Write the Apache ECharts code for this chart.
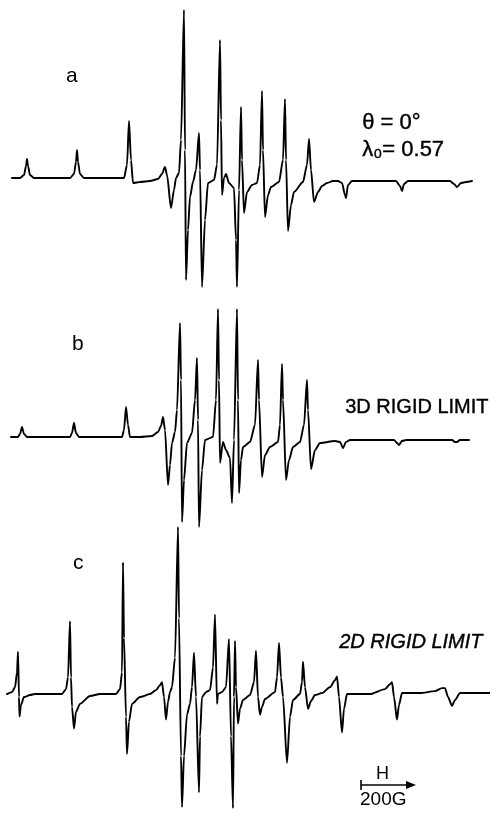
<!DOCTYPE html>
<html><head><meta charset="utf-8">
<script src="https://cdn.jsdelivr.net/npm/echarts@6/dist/echarts.min.js"></script>
<style>html,body{margin:0;padding:0;background:#fff}#c{width:490px;height:815px}</style>
</head><body><div id="c"></div>
<script>
// Field positions (arbitrary field units, proportional to H; 54 units = 200 G) and derivative amplitudes (arbitrary units)
const fieldA = [12,20,24,26,27,28,30,34,70,74,76,77,78,80,84,124,127,129,131,133,140,150,158,162,165,167,171,174,176,179,181,184,185,186,188,190,193,196,199,200,202,205,208,214,217,220,221,222,224,226,229,234,236,237,239,241,242,244,247,252,257,260,262,263,265,268,271,279,283,285,286,288,291,294,303,307,309,311,314,318,322,327,333,338,342,345,346,348,352,396,400,402,404,408,450,454,457,461,466,472];
const ampA   = [0,0,3,12,19,12,3,0,0,4,16,28,16,4,0,0,13,57,18,-5,-4,-3,-1,4,11,3,-30,-12,0,5,38,168,28,-102,-52,-19,-4,8,45,8,-109,-42,-5,-2,13,138,58,-17,0,4,-5,-10,-62,-109,-12,71,18,-35,-14,-7,-5,13,87,28,-39,-17,-9,-4,18,79,18,-53,-27,-14,-4,13,39,8,-24,-14,-8,-5,-3,-3,-5,-17,-20,-7,-3,-3,-8,-13,-6,-3,-3,-6,-9,-5,-4,-3];

const fieldB = [11,18,20,22,24,27,70,72,74,76,79,122,124,126,128,130,140,152,158,161,163,165,168,170,172,175,177,180,181,182,184,187,192,195,197,198,199,202,205,213,216,218,219,220,223,226,230,232,234,237,238,239,241,243,250,255,258,259,262,265,270,278,280,282,283,286,289,293,300,304,307,308,311,315,320,335,340,343,346,350,394,397,399,402,406,452,455,457,460,469];
const ampB   = [0,0,3,10,3,0,0,4,14,4,0,0,7,30,12,0,0,1,5,11,20,7,-48,-28,-6,5,27,114,57,-85,-43,-6,4,37,79,17,-90,-33,-3,0,37,128,57,-26,-5,-13,-21,-66,-3,128,37,-56,-23,-10,-5,12,77,37,-40,-18,-10,-5,12,73,37,-43,-23,-10,-5,12,57,27,-32,-13,-6,-4,-5,-11,-5,-3,-3,-6,-8,-4,-3,-3,-5,-5,-3,-3];

const fieldC = [7,12,15,17,18,19,19.5,21,24,30,35,62,66,68,70,71,72,74,76,80,90,100,116,120,122,123,124,126,127,129,132,140,150,156,160,162,164,166,168,170,172,175,178,179,181,182,184,187,190,192,194,196,199,200,202,206,210,213,215,217,218,222,226,229,231,233,234,235,236,238,240,243,250,254,256,258,260,262,265,275,277,279,281,283,287,290,293,300,302,303,305,308,311,315,322,330,335,337,339,342,344,347,370,385,390,392,394,397,399,402,420,435,442,445,448,452,455,460,490];
const ampC   = [0,2,7,22,43,-3,-23,-11,-3,-1,0,0,5,17,74,17,-13,-35,-18,-10,-2,0,0,5,22,134,57,-23,-61,-28,-10,-3,0,4,9,12,-3,-26,-8,2,7,37,170,77,-63,-115,-63,-21,-10,7,42,-3,-100,-43,-3,2,4,27,81,-10,0,2,7,56,-43,-116,-3,54,7,-30,-15,-6,-1,12,44,-3,-21,-13,-5,2,17,52,17,-3,-70,-23,-6,0,12,33,7,-15,-7,-1,1,7,14,18,-3,-39,-15,0,0,5,10,12,-3,-26,-11,1,1,3,6,6,-3,-12,-6,1,1];

const panelLabels = ['a','b','c'];
const annotA = ['θ = 0°', 'λ₀= 0.57'];
const annotB = '3D RIGID LIMIT';
const annotC = '2D RIGID LIMIT';
const scaleLabel = ['H', '200G'];

const zip = (xs, ys) => xs.map((x, i) => [x, ys[i]]);

const chart = echarts.init(document.getElementById('c'), null, {renderer: 'canvas'});
const grids = [
  {left: 0, width: 490, top: 0, height: 300},
  {left: 0, width: 490, top: 300, height: 240},
  {left: 0, width: 490, top: 520, height: 300}
];
const yRanges = [[-122, 178], [-103, 137], [-123, 177]];
const font = '"Liberation Sans", "DejaVu Sans", sans-serif';
const lineStyle = {color: '#000', width: 1.9, join: 'round', cap: 'round'};

chart.setOption({
  animation: false,
  backgroundColor: '#fff',
  grid: grids,
  xAxis: grids.map((g, i) => ({type: 'value', gridIndex: i, min: 0, max: 490, show: false})),
  yAxis: yRanges.map((r, i) => ({type: 'value', gridIndex: i, min: r[0], max: r[1], show: false})),
  series: [zip(fieldA, ampA), zip(fieldB, ampB), zip(fieldC, ampC)].map((d, i) => ({
    type: 'line', xAxisIndex: i, yAxisIndex: i, data: d, showSymbol: false,
    smooth: 0.25, smoothMonotone: 'x',
    lineStyle: lineStyle, silent: true
  })),
  graphic: [
    {type: 'text', left: 66, top: 66, style: {text: panelLabels[0], font: '21px ' + font, fill: '#000'}},
    {type: 'text', left: 72, top: 334, style: {text: panelLabels[1], font: '21px ' + font, fill: '#000'}},
    {type: 'text', left: 73, top: 553, style: {text: panelLabels[2], font: '21px ' + font, fill: '#000'}},
    {type: 'text', left: 362, top: 112, style: {text: annotA[0], font: '22px ' + font, fill: '#000', stroke: '#000', lineWidth: 0.4}},
    {type: 'text', left: 362, top: 139, style: {text: annotA[1], font: '22px ' + font, fill: '#000', stroke: '#000', lineWidth: 0.4}},
    {type: 'text', left: 345, top: 397, style: {text: annotB, font: '20px ' + font, fill: '#000', stroke: '#000', lineWidth: 0.4}},
    {type: 'text', left: 339, top: 632, style: {text: annotC, font: 'italic 20px ' + font, fill: '#000', stroke: '#000', lineWidth: 0.4}},
    {type: 'line', shape: {x1: 361, y1: 785, x2: 412, y2: 785}, style: {stroke: '#000', lineWidth: 1.6}},
    {type: 'line', shape: {x1: 361, y1: 780, x2: 361, y2: 790}, style: {stroke: '#000', lineWidth: 1.6}},
    {type: 'polygon', shape: {points: [[416, 785], [406, 781], [406, 789]]}, style: {fill: '#000'}},
    {type: 'text', left: 376, top: 765, style: {text: scaleLabel[0], font: '18px ' + font, fill: '#000'}},
    {type: 'text', left: 360, top: 790, style: {text: scaleLabel[1], font: '19px ' + font, fill: '#000'}}
  ]
});
</script></body></html>
